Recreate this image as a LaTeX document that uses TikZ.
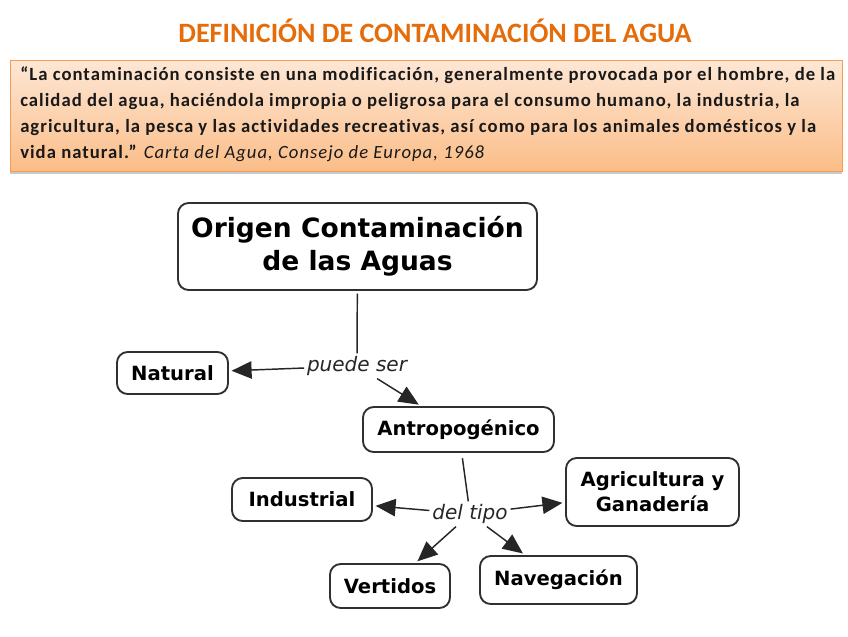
\documentclass[tikz,border=0pt]{standalone}
\usepackage{fontspec}
\setmainfont{Carlito}
\newfontfamily\mapfont{DejaVu Sans}
\newfontfamily\quotefont[LetterSpace=5.5,Ligatures=NoCommon]{Carlito}
\usetikzlibrary{arrows.meta,shadows}
\definecolor{titleor}{HTML}{E46C0A}
\definecolor{boxtop}{HTML}{FDE7D5}
\definecolor{boxbot}{HTML}{FBBD88}
\definecolor{boxedge}{HTML}{F59D56}
\definecolor{nodeedge}{HTML}{303030}
\begin{document}
\begin{tikzpicture}[x=0.75pt,y=-0.75pt,
  concept/.style={draw=nodeedge, line width=1.4pt, rounded corners=8pt, fill=white,
    font=\mapfont\bfseries\fontsize{14.7}{18.75}\selectfont, align=center, inner sep=0pt},
  lbl/.style={font=\mapfont\itshape\fontsize{15}{18}\selectfont, inner sep=2pt, text=black!85},
  conn/.style={line width=1.1pt, draw=black!85, -{Triangle[length=15pt,width=13pt]}, shorten >=2pt},
  plain/.style={line width=1.1pt, draw=black!85}
]
\useasboundingbox (0,0) rectangle (848,636);

% title
\node[font=\bfseries\fontsize{21}{25}\selectfont, text=titleor] (title) at (435,31)
  {DEFINICIÓN DE CONTAMINACIÓN DEL AGUA};

% quote box
\node[draw=boxedge, line width=0.6pt, top color=boxtop, bottom color=boxbot,
  drop shadow={shadow xshift=0pt, shadow yshift=-2.5pt, opacity=0.35, fill=black!60},
  minimum width=624pt, minimum height=83pt, anchor=north west, inner sep=0pt] (qbox) at (10,60) {};
\node[anchor=north west, align=left, inner sep=0pt,
  font=\quotefont\bfseries\fontsize{14}{19.5}\selectfont, text=black!90] (quote) at (20,66)
  {“La contaminación consiste en una modificación, generalmente provocada por el hombre, de la\\
   calidad del agua, haciéndola impropia o peligrosa para el consumo humano, la industria, la\\
   agricultura, la pesca y las actividades recreativas, así como para los animales domésticos y la\\
   vida natural.” \itshape\mdseries Carta del Agua, Consejo de Europa, 1968};

% concept map
\node[concept, minimum width=269.25pt, minimum height=65.25pt,
  font=\mapfont\bfseries\fontsize{19.9}{24.75}\selectfont] (origen) at (357.5,246.5)
  {Origen Contaminación\\de las Aguas};
\node[lbl] (puede) at (357,366) {puede ser};
\node[concept, minimum width=83.25pt, minimum height=31.5pt] (natural) at (172.5,373) {Natural};
\node[concept, minimum width=143.25pt, minimum height=33.75pt] (antro) at (458.5,429.5) {Antropogénico};
\node[lbl] (tipo) at (470,514) {del tipo};
\node[concept, minimum width=105pt, minimum height=32.25pt] (indus) at (302,499.5) {Industrial};
\node[concept, minimum width=129.75pt, minimum height=51pt] (agri) at (652.5,492) {Agricultura y\\Ganadería};
\node[concept, minimum width=90pt, minimum height=33pt] (vert) at (390,586) {Vertidos};
\node[concept, minimum width=117.75pt, minimum height=36pt] (nave) at (558.5,580) {Navegación};

\draw[plain, shorten <=2pt] (origen) -- (puede);
\draw[conn] (puede) -- (natural);
\draw[conn] (puede) -- (antro);
\draw[plain, shorten <=4pt] (antro) -- (tipo);
\draw[conn] (tipo) -- (indus);
\draw[conn] (tipo) -- (agri);
\draw[conn] (tipo) -- (vert);
\draw[conn] (tipo) -- (nave);
\end{tikzpicture}
\end{document}
